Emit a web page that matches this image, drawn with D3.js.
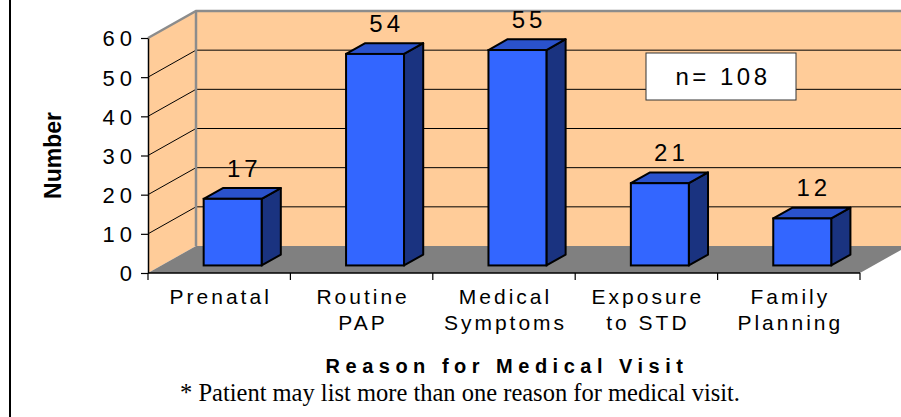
<!DOCTYPE html>
<html lang="en">
<head>
  <meta charset="UTF-8">
  <title>Reason for Medical Visit</title>
  <script src="https://d3js.org/d3.v7.min.js"></script>
  <style>
    body {
      margin: 0;
      padding: 0;
      background-color: #fff;
    }
    svg {
      display: block;
    }
    .tick-label, .value-label, .cat-label, .n-label {
      font-family: Arial, "Liberation Sans", sans-serif;
      fill: #000;
    }
  </style>
</head>
<body>
  <svg id="chart" width="901" height="417"></svg>

  <script>
    // data
    const categories = ["Prenatal", "Routine\nPAP", "Medical\nSymptoms", "Exposure\nto STD", "Family\nPlanning"];
    const counts = [17, 54, 55, 21, 12];
    const yTicks = [0, 10, 20, 30, 40, 50, 60];
    const sampleNote = "n= 108";

    const width = 901;
    const height = 417;
    const plot = { left: 148, right: 860, top: 38, bottom: 273 };

    // 3d depth vector of the chart box
    const DX = 48, DY = -27;
    const barFront = 0.28;   // depth where the bar front sits
    const barDepth = 0.40;   // how deep the bar is

    const svg = d3.select("#chart");

    const xScale = d3.scaleBand()
      .domain(categories)
      .range([plot.left, plot.right])
      .paddingInner(0.593)
      .paddingOuter(0.2965);

    const yScale = d3.scaleLinear()
      .domain([0, 60])
      .range([plot.bottom, plot.top]);

    const peach = "#ffcc99";
    const edgeGray = "#8c8c8c";

    // left frame line
    svg.append("line")
      .attr("x1", 10).attr("x2", 10)
      .attr("y1", 0).attr("y2", height)
      .attr("stroke", "#000")
      .attr("stroke-width", 2);

    // back wall
    const y0 = yScale(0), yMax = yScale(60);
    svg.append("rect")
      .attr("x", plot.left + DX)
      .attr("y", yMax + DY)
      .attr("width", plot.right - plot.left)
      .attr("height", y0 - yMax)
      .attr("fill", peach);

    // side wall
    svg.append("polygon")
      .attr("points", [
        [plot.left, yMax], [plot.left + DX, yMax + DY],
        [plot.left + DX, y0 + DY], [plot.left, y0]
      ].join(" "))
      .attr("fill", peach);

    // floor
    svg.append("polygon")
      .attr("points", [
        [plot.left, y0], [plot.left + DX, y0 + DY],
        [plot.right + DX, y0 + DY], [plot.right, y0]
      ].join(" "))
      .attr("fill", "#808080");

    // grid lines on walls
    const inner = yTicks.filter(t => t > 0 && t < 60);
    svg.selectAll(".grid-back")
      .data(inner)
      .enter().append("line")
      .attr("x1", plot.left + DX)
      .attr("x2", plot.right + DX)
      .attr("y1", d => yScale(d) + DY)
      .attr("y2", d => yScale(d) + DY)
      .attr("stroke", "#000")
      .attr("stroke-width", 1);

    svg.selectAll(".grid-side")
      .data(inner)
      .enter().append("line")
      .attr("x1", plot.left)
      .attr("x2", plot.left + DX)
      .attr("y1", d => yScale(d))
      .attr("y2", d => yScale(d) + DY)
      .attr("stroke", "#000")
      .attr("stroke-width", 1);

    // gray wall edges
    svg.append("polyline")
      .attr("points", [
        [plot.left, yMax], [plot.left + DX, yMax + DY], [plot.right + DX, yMax + DY]
      ].join(" "))
      .attr("fill", "none")
      .attr("stroke", edgeGray)
      .attr("stroke-width", 2.5);
    svg.append("line")
      .attr("x1", plot.left + DX).attr("x2", plot.left + DX)
      .attr("y1", yMax + DY).attr("y2", y0 + DY)
      .attr("stroke", edgeGray)
      .attr("stroke-width", 2.5);

    // y axis
    const yAxis = svg.append("g")
      .attr("transform", `translate(${plot.left},0)`)
      .call(d3.axisLeft(yScale).tickValues(yTicks).tickSize(7).tickPadding(9).tickSizeOuter(0));
    yAxis.select(".domain").attr("stroke", "#000").attr("stroke-width", 1.5);
    yAxis.selectAll(".tick line").attr("stroke", "#000").attr("stroke-width", 1.2);
    yAxis.selectAll(".tick text")
      .attr("class", "tick-label")
      .attr("font-size", 22)
      .attr("letter-spacing", "5px")
      .attr("dx", "5px")
      .attr("dy", "0.36em");

    // x axis (category boundaries get the ticks)
    const xAxis = svg.append("g");
    xAxis.append("line")
      .attr("x1", plot.left).attr("x2", plot.right)
      .attr("y1", y0).attr("y2", y0)
      .attr("stroke", "#000")
      .attr("stroke-width", 1.5);
    const step = xScale.step();
    xAxis.selectAll(".xtick")
      .data(d3.range(categories.length + 1))
      .enter().append("line")
      .attr("x1", i => plot.left + i * step)
      .attr("x2", i => plot.left + i * step)
      .attr("y1", y0)
      .attr("y2", y0 + 7)
      .attr("stroke", "#000")
      .attr("stroke-width", 1.2);

    // category labels
    const catText = xAxis.selectAll(".cat-label")
      .data(categories)
      .enter().append("text")
      .attr("class", "cat-label")
      .attr("font-size", 21)
      .attr("letter-spacing", "3px")
      .attr("text-anchor", "middle");
    catText.each(function(d) {
      const cx = xScale(d) + xScale.bandwidth() / 2 + 1.5;
      d.split("\n").forEach((line, i) => {
        d3.select(this).append("tspan")
          .attr("x", cx)
          .attr("y", 304 + i * 26)
          .text(line);
      });
    });

    // bars
    const fdx = DX * barFront, fdy = DY * barFront;
    const bdx = DX * barDepth, bdy = DY * barDepth;
    const bw = xScale.bandwidth();

    const bars = svg.selectAll(".bar")
      .data(categories.map((c, i) => ({ cat: c, value: counts[i] })))
      .enter().append("g")
      .attr("class", "bar");

    bars.each(function(d) {
      const g = d3.select(this);
      const xl = xScale(d.cat) + fdx;
      const xr = xl + bw;
      const yt = yScale(d.value) + fdy;
      const yb = yScale(0) + fdy;

      g.append("polygon")
        .attr("points", [[xr, yt], [xr + bdx, yt + bdy], [xr + bdx, yb + bdy], [xr, yb]].join(" "))
        .attr("fill", "#1a3380")
        .attr("stroke", "#000")
        .attr("stroke-width", 2)
        .attr("stroke-linejoin", "round");

      g.append("polygon")
        .attr("points", [[xl, yt], [xl + bdx, yt + bdy], [xr + bdx, yt + bdy], [xr, yt]].join(" "))
        .attr("fill", "#2a52cc")
        .attr("stroke", "#000")
        .attr("stroke-width", 2)
        .attr("stroke-linejoin", "round");

      g.append("rect")
        .attr("x", xl)
        .attr("y", yt)
        .attr("width", bw)
        .attr("height", yb - yt)
        .attr("fill", "#3366ff")
        .attr("stroke", "#000")
        .attr("stroke-width", 2);

      g.append("text")
        .attr("class", "value-label")
        .attr("x", xl + bw / 2 + bdx / 2 + 2)
        .attr("y", yt - 22)
        .attr("text-anchor", "middle")
        .attr("font-size", 24)
        .attr("letter-spacing", "4px")
        .text(d.value);
    });

    // n box
    const nBox = svg.append("g").attr("transform", "translate(646,53)");
    nBox.append("rect")
      .attr("width", 150)
      .attr("height", 47)
      .attr("fill", "#fff")
      .attr("stroke", "#333")
      .attr("stroke-width", 1);
    nBox.append("text")
      .attr("class", "n-label")
      .attr("x", 75 + 2)
      .attr("y", 32)
      .attr("text-anchor", "middle")
      .attr("font-size", 24)
      .attr("letter-spacing", "3.5px")
      .text(sampleNote);

    // axis titles
    svg.append("text")
      .attr("transform", `translate(61,${(plot.top + plot.bottom) / 2}) rotate(-90)`)
      .attr("text-anchor", "middle")
      .attr("font-family", "Arial, 'Liberation Sans', sans-serif")
      .attr("font-weight", "bold")
      .attr("font-size", 23)
      .text("Number");

    svg.append("text")
      .attr("x", (plot.left + plot.right) / 2 + 3)
      .attr("y", 373)
      .attr("text-anchor", "middle")
      .attr("font-family", "Arial, 'Liberation Sans', sans-serif")
      .attr("font-weight", "bold")
      .attr("font-size", 20)
      .attr("letter-spacing", "5.5px")
      .text("Reason for Medical Visit");

    svg.append("text")
      .attr("x", 460)
      .attr("y", 401)
      .attr("text-anchor", "middle")
      .attr("font-family", "'Times New Roman', 'Liberation Serif', serif")
      .attr("font-size", 24.5)
      .text("* Patient may list more than one reason for medical visit.");
  </script>
</body>
</html>
